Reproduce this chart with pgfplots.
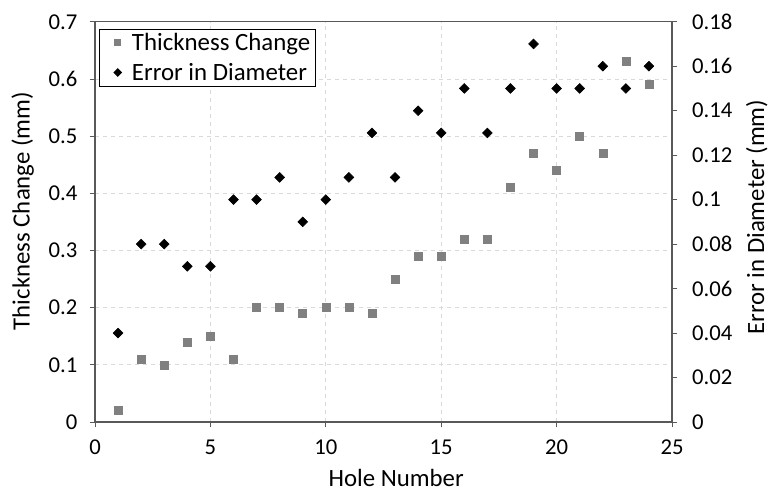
\documentclass[border=0pt]{standalone}
\usepackage{pgfplots}
\pgfplotsset{compat=1.18}
\usepackage{fontspec}
\setmainfont{Carlito}
\definecolor{sqgray}{RGB}{128,128,128}
\definecolor{gridc}{RGB}{217,217,217}
\definecolor{framec}{RGB}{89,89,89}
\begin{document}
\begin{tikzpicture}
\pgfplotsset{
  every axis/.append style={
    scale only axis, width=432.75pt, height=300.2pt,
    xmin=0, xmax=25, xtick={0,5,...,25},
    axis line style={framec, line width=0.8pt},
    tick style={framec, line width=0.6pt},
    tick align=outside, major tick length=4pt,
    /pgf/number format/assume math mode=true,
    ticklabel style={font=\fontsize{17}{20}\selectfont},
    label style={font=\fontsize{18.6}{22}\selectfont},
  }
}
\begin{axis}[name=a,
  xtick pos=bottom, ytick pos=left,
  ymin=0, ymax=0.7, ytick={0,0.1,...,0.7},
  yticklabel style={/pgf/number format/fixed, xshift=-5.75pt},
  xticklabel style={yshift=-6pt},
  grid=major, grid style={gridc, dashed, line width=0.5pt},
  xlabel={Hole Number}, ylabel={Thickness Change (mm)},
  xlabel style={at={(axis description cs:0.522,-0.14)}, anchor=center},
  ylabel style={at={(axis description cs:-0.1255,0.527)}, anchor=center},
  legend style={at={(0.007,0.983)}, anchor=north west, draw=black, line width=0.8pt,
    font=\fontsize{18.65}{22}\selectfont, row sep=4pt, inner xsep=2pt, inner ysep=1pt},
  legend cell align=left,
  legend image code/.code={\path (-11.25pt,0) (8.25pt,0); \draw[#1] plot coordinates {(0pt,0pt)};},
]
\addlegendimage{only marks, mark=square*, mark size=2.3pt, color=sqgray}
\addlegendentry{Thickness Change}
\addlegendimage{only marks, mark=square*, mark size=1.9pt, mark options={rotate=45}, black}
\addlegendentry{Error in Diameter}
\addplot[only marks, mark=square*, mark size=3pt, color=sqgray, forget plot] coordinates {
(1,0.02)(2,0.11)(3,0.10)(4,0.14)(5,0.15)(6,0.11)(7,0.20)(8,0.20)(9,0.19)(10,0.20)
(11,0.20)(12,0.19)(13,0.25)(14,0.29)(15,0.29)(16,0.32)(17,0.32)(18,0.41)(19,0.47)
(20,0.44)(21,0.50)(22,0.47)(23,0.63)(24,0.59)};
\end{axis}
\begin{axis}[
  axis y line*=right, axis x line=none,
  ymin=0, ymax=0.18, ytick={0,0.02,...,0.18},
  yticklabel style={/pgf/number format/fixed, /pgf/number format/precision=2, xshift=7.5pt},
  ylabel={Error in Diameter (mm)},
  ylabel style={at={(axis description cs:1.147,0.512)}, anchor=center},
]
\addplot[only marks, mark=square*, mark size=2.6pt, mark options={rotate=45}, black] coordinates {
(1,0.04)(2,0.08)(3,0.08)(4,0.07)(5,0.07)(6,0.10)(7,0.10)(8,0.11)(9,0.09)(10,0.10)
(11,0.11)(12,0.13)(13,0.11)(14,0.14)(15,0.13)(16,0.15)(17,0.13)(18,0.15)(19,0.17)
(20,0.15)(21,0.15)(22,0.16)(23,0.15)(24,0.16)};
\end{axis}
\pgfresetboundingbox
\path ([xshift=-71.25pt, yshift=-52.5pt]a.south west) rectangle ([xshift=72.75pt, yshift=16.3pt]a.north east);
\end{tikzpicture}
\end{document}
